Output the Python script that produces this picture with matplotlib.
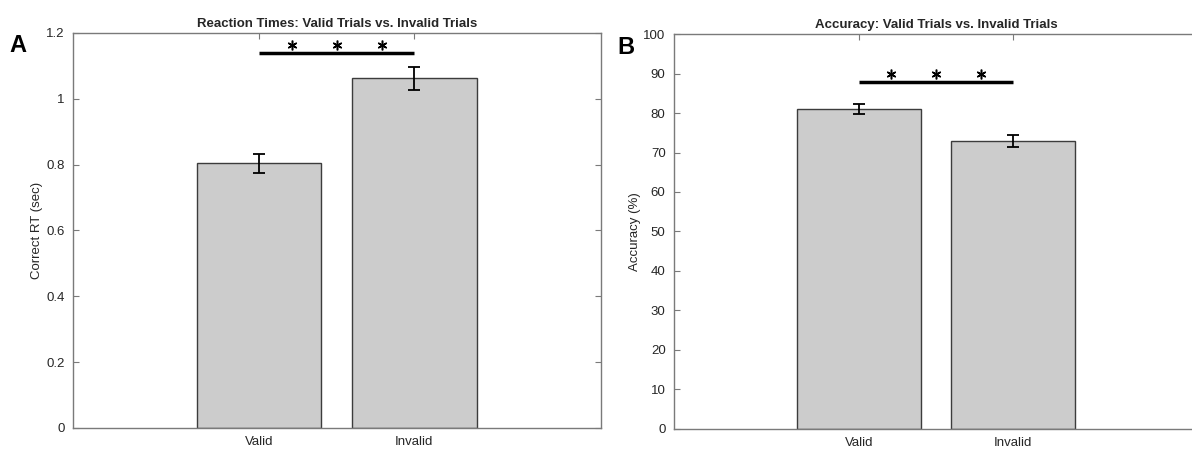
import numpy as np
import matplotlib.pyplot as plt

plt.rcParams["font.family"] = ["Liberation Sans", "DejaVu Sans"]

conditions = ["Valid", "Invalid"]

# Panel A: correct reaction times
rt_mean = [0.804, 1.062]
rt_err = [0.028, 0.036]

# Panel B: accuracy
acc_mean = [81.0, 73.0]
acc_err = [1.3, 1.5]

TEXT = "#262626"


def style_axes(ax):
    for s in ax.spines.values():
        s.set_color("#7a7a7a")
        s.set_linewidth(1.0)
    ax.tick_params(direction="in", length=4, width=0.8, colors="#7a7a7a",
                   labelcolor=TEXT, labelsize=9.5, top=True, right=True)
    ax.tick_params(axis="y", pad=6)
    ax.tick_params(axis="x", pad=6)


def bar_panel(ax, means, errs, ylim, yticks, ylabel, title, sig_y, star_y):
    x = np.arange(1, len(conditions) + 1)
    ax.bar(x, means, width=0.8, color="#cccccc", edgecolor="#3c3c3c",
           linewidth=1.0, zorder=2)
    ax.errorbar(x, means, yerr=errs, fmt="none", ecolor="black",
                elinewidth=1.3, capsize=4, capthick=1.3, zorder=3)
    ax.set_xlim(-0.2, 3.2)
    ax.set_ylim(*ylim)
    ax.set_xticks(x)
    ax.set_xticklabels(conditions)
    ax.set_yticks(yticks)
    ax.set_ylabel(ylabel, fontsize=9.5, color=TEXT, labelpad=2)
    ax.set_title(title, fontsize=9.5, fontweight="bold", color=TEXT, pad=4)
    style_axes(ax)

    # significance bracket between the two conditions
    ax.plot([1, 2], [sig_y, sig_y], color="black", lw=2.5,
            solid_capstyle="butt", zorder=4, clip_on=False)
    ax.plot([1.21, 1.5, 1.79], [star_y] * 3, linestyle="none", marker=(6, 2, 0),
            markersize=7, markeredgewidth=1.1, color="black", zorder=4)


fig = plt.figure(figsize=(11.92, 4.51), dpi=100)

ax_a = fig.add_axes([0.061, 0.051, 0.443, 0.876])
bar_panel(ax_a, rt_mean, rt_err, (0, 1.2), np.arange(0, 1.21, 0.2),
          "Correct RT (sec)", "Reaction Times: Valid Trials vs. Invalid Trials",
          1.139, 1.162)
ax_a.set_yticklabels(["0", "0.2", "0.4", "0.6", "0.8", "1", "1.2"])

ax_b = fig.add_axes([0.5654, 0.0488, 0.4396, 0.8758])
bar_panel(ax_b, acc_mean, acc_err, (0, 100), np.arange(0, 101, 10),
          "Accuracy (%)", "Accuracy: Valid Trials vs. Invalid Trials",
          87.8, 89.9)

fig.text(0.008, 0.885, "A", fontsize=17, fontweight="bold", color="black")
fig.text(0.518, 0.88, "B", fontsize=17, fontweight="bold", color="black")

fig.savefig("out.png", dpi=100)
plt.close(fig)
